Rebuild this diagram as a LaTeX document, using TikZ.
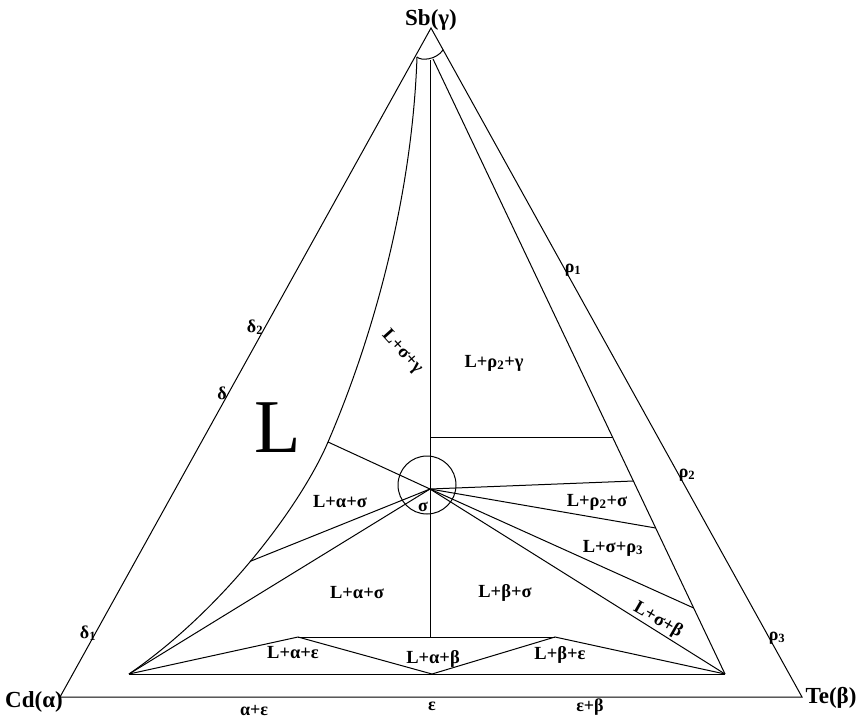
\documentclass[tikz,border=0pt]{standalone}
\usepackage{fontspec}
\setmainfont{Liberation Serif}
\begin{document}
\begin{tikzpicture}[x=1pt,y=-1pt,line width=1pt,
    lab/.style={font=\bfseries\fontsize{18.5}{18.5}\selectfont,inner sep=0pt},
    tip/.style={font=\bfseries\fontsize{18}{18}\selectfont,inner sep=0pt},
    corner/.style={font=\bfseries\fontsize{23}{23}\selectfont,inner sep=0pt}]
      \useasboundingbox (0,0) rectangle (861,718);
      \coordinate (A) at (60,697);
      \coordinate (B) at (802,697);
      \coordinate (C) at (431,28);
      \coordinate (U) at (417,57);
      \coordinate (V) at (443,50);
      \coordinate (W) at (430,60);
      \coordinate (X) at (433,59);
      \coordinate (S) at (430,489);
      \coordinate (H) at (328,442);
      \coordinate (P) at (129,674);
      \coordinate (Q) at (725,674);
      \coordinate (D) at (298,637);
      \coordinate (E) at (555,637);
      \coordinate (F) at (430,637);
      \coordinate (G) at (432,674);
      \coordinate (R) at (430,437);
      \coordinate (J) at (612.5,437);
      \coordinate (K) at (633.4,481);
      \coordinate (M) at (655.7,528);
      \coordinate (N) at (693.7,608);
      \draw (A) to (B) to (C) to cycle;
      \draw (U) .. controls (421,61) and (436,60) .. (V);
      \draw (U) .. controls (412,200) and (372,340) .. (H) .. controls (302,503) and (225,608) .. (P) coordinate [pos=.52] (I);
      \draw (W) to (F);
      \draw (X) to (Q);
      \draw (P) to (Q);
      \draw (P) to (D) to (G) to (E) to (Q);
      \draw (D) to (E);
      \draw (S) to (P);
      \draw (S) to (I);
      \draw (S) to (H);
      \draw (R) to (J);
      \draw (S) to (K);
      \draw (S) to (M);
      \draw (S) to (N);
      \draw (S) to (Q);
      \node [circle,draw,minimum size=58pt,inner sep=0pt] (O) at (427,485) {};
      \node [corner] (Sb) at (431,20) {Sb(γ)};
      \node [corner] (Cd) at (34,702) {Cd(α)};
      \node [corner] (Te) at (831,698) {Te(β)};
      \node [tip] (T1) at (254,710) {α+ε};
      \node [tip] (T2) at (432,706) {ε};
      \node [tip] (T3) at (590,707) {ε+β};
      \node [tip] (D1) at (88,633) {δ\textsubscript{1}};
      \node [tip] (D0) at (222,393) {δ};
      \node [tip] (D2) at (255,327) {δ\textsubscript{2}};
      \node [tip] (R1) at (573,270) {ρ\textsubscript{1}};
      \node [tip] (R2) at (687,475) {ρ\textsubscript{2}};
      \node [tip] (R3) at (777,638) {ρ\textsubscript{3}};
      \node [tip] (Sg) at (423,507) {σ};
      \node [font=\fontsize{76}{76}\selectfont,inner sep=0pt] (L) at (278,428) {L};
      \node [lab,rotate=-48] (L1) at (402,352) {L+σ+γ};
      \node [lab] (L2) at (494,363) {L+ρ\textsubscript{2}+γ};
      \node [lab] (L3) at (340,502) {L+α+σ};
      \node [lab] (L4) at (597,502) {L+ρ\textsubscript{2}+σ};
      \node [lab] (L5) at (613,548) {L+σ+ρ\textsubscript{3}};
      \node [lab,rotate=-30] (L6) at (658,620) {L+σ+β};
      \node [lab] (L7) at (357,593) {L+α+σ};
      \node [lab] (L8) at (505,593) {L+β+σ};
      \node [lab] (L9) at (293,653) {L+α+ε};
      \node [lab] (L10) at (433,659) {L+α+β};
      \node [lab] (L11) at (560,655) {L+β+ε};
\end{tikzpicture}
\end{document}
